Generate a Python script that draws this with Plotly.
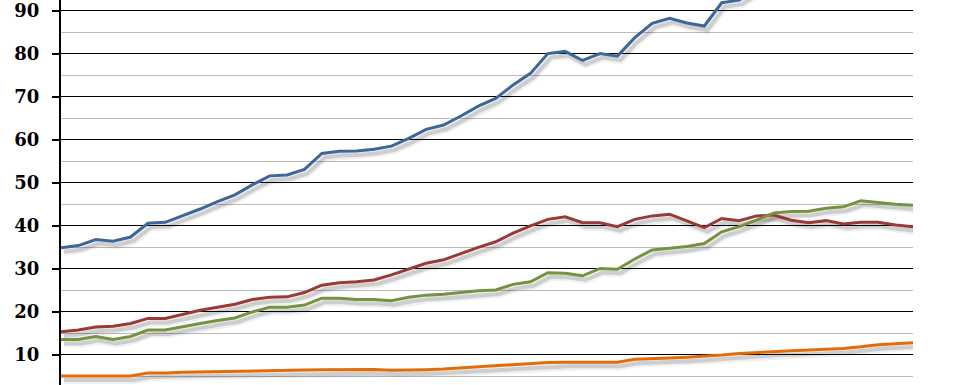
import plotly.graph_objects as go

years = [1963, 1964, 1965, 1966, 1967, 1968, 1969, 1970, 1971, 1972,
         1973, 1974, 1975, 1976, 1977, 1978, 1979, 1980, 1981, 1982,
         1983, 1984, 1985, 1986, 1987, 1988, 1989, 1990, 1991, 1992,
         1993, 1994, 1995, 1996, 1997, 1998, 1999, 2000, 2001, 2002,
         2003, 2004, 2005, 2006, 2007, 2008, 2009, 2010, 2011, 2012]

blue = [34.9, 35.4, 36.8, 36.4, 37.4, 40.6, 40.8, 42.3, 43.9, 45.6,
        47.2, 49.5, 51.6, 51.8, 53.1, 56.8, 57.3, 57.4, 57.8, 58.5,
        60.3, 62.4, 63.4, 65.5, 67.8, 69.6, 72.7, 75.4, 80.0, 80.5,
        78.4, 80.0, 79.4, 83.7, 87.0, 88.2, 87.1, 86.4, 91.8, 92.4,
        95.0, 96.5, 98.2, 99.5, 101.0, 103.0, 104.5, 106.0, 108.0, 110.0]

red = [15.4, 15.8, 16.5, 16.7, 17.3, 18.5, 18.5, 19.4, 20.4, 21.1,
       21.8, 22.9, 23.4, 23.5, 24.5, 26.2, 26.8, 27.0, 27.4, 28.6,
       29.9, 31.3, 32.1, 33.6, 35.0, 36.3, 38.3, 40.0, 41.5, 42.1,
       40.7, 40.7, 39.8, 41.5, 42.3, 42.7, 41.2, 39.6, 41.7, 41.2,
       42.3, 42.5, 41.3, 40.7, 41.2, 40.4, 40.8, 40.8, 40.2, 39.8]

green = [13.6, 13.6, 14.3, 13.6, 14.3, 15.8, 15.8, 16.6, 17.3, 18.0,
         18.6, 20.0, 21.1, 21.1, 21.6, 23.2, 23.2, 22.9, 22.9, 22.6,
         23.4, 23.9, 24.1, 24.5, 24.9, 25.1, 26.4, 27.0, 29.1, 29.0,
         28.4, 30.1, 29.9, 32.3, 34.4, 34.8, 35.2, 35.9, 38.6, 39.8,
         41.3, 43.0, 43.3, 43.4, 44.1, 44.4, 45.8, 45.4, 45.0, 44.8]

orange = [5.1, 5.1, 5.1, 5.1, 5.1, 5.8, 5.8, 6.0, 6.05, 6.1,
          6.2, 6.35, 6.4, 6.4, 6.5, 6.6, 6.65, 6.65, 6.65, 6.45,
          6.45, 6.6, 6.75, 7.0, 7.2, 7.45, 7.65, 7.9, 8.25, 8.3,
          8.3, 8.3, 8.3, 9.0, 9.1, 9.3, 9.5, 9.7, 10.0, 10.35,
          10.6, 10.9, 11.0, 11.15, 11.3, 11.5, 11.9, 12.4, 12.6, 12.85]

series = [
    ("Series 1", blue, "#3C679A"),
    ("Series 2", red, "#9A3A38"),
    ("Series 3", green, "#76923C"),
    ("Series 4", orange, "#E36C09"),
]

y_tick_vals = [10, 20, 30, 40, 50, 60, 70, 80, 90]
y_tick_text = ["10", "20", "30", "40", "50", "60", "70", "80", "90"]

W, H = 967, 385
ML, MR = 61, 54
plot_w = W - ML - MR
y_lo, y_hi = 3.03, 92.44
x_lo, x_hi = years[0], years[-1]
px_per_x = plot_w / (x_hi - x_lo)
px_per_y = H / (y_hi - y_lo)
sdx, sdy = 3, 4  # shadow offset in pixels

fig = go.Figure()

# shadows on the base axes (shifted ranges)
for name, vals, col in series:
    fig.add_trace(go.Scatter(x=years, y=vals, mode="lines", xaxis="x", yaxis="y",
                             line=dict(color="rgba(0,0,0,0.06)", width=8),
                             hoverinfo="skip", showlegend=False))
    fig.add_trace(go.Scatter(x=years, y=vals, mode="lines", xaxis="x", yaxis="y",
                             line=dict(color="rgba(0,0,0,0.14)", width=4),
                             hoverinfo="skip", showlegend=False))

# real lines on overlay axes
for name, vals, col in series:
    fig.add_trace(go.Scatter(x=years, y=vals, mode="lines", name=name,
                             xaxis="x2", yaxis="y2",
                             line=dict(color=col, width=3), showlegend=False))

fig.update_layout(
    width=W, height=H,
    margin=dict(l=ML, r=MR, t=0, b=0, pad=0, autoexpand=False),
    paper_bgcolor="white", plot_bgcolor="white",
    showlegend=False,
    xaxis=dict(range=[x_lo - sdx / px_per_x, x_hi - sdx / px_per_x], visible=False,
               fixedrange=True, automargin=False),
    yaxis=dict(range=[y_lo + sdy / px_per_y, y_hi + sdy / px_per_y], visible=False,
               fixedrange=True, automargin=False),
    xaxis2=dict(range=[x_lo, x_hi], overlaying="x", visible=False, anchor="y2",
                automargin=False),
    yaxis2=dict(range=[y_lo, y_hi], overlaying="y", side="left", anchor="x2",
                automargin=False, ticklabeloverflow="allow",
                tickmode="array", tickvals=y_tick_vals, ticktext=y_tick_text,
                showgrid=True, gridcolor="#000000", gridwidth=1,
                showline=True, linecolor="#000000", linewidth=2,
                ticks="outside", ticklen=7, tickcolor="#000000", tickwidth=2,
                ticklabelstandoff=9,
                tickfont=dict(family="DejaVu Serif", size=18, color="#000000", weight="bold"),
                minor=dict(tickmode="array", tickvals=[5, 15, 25, 35, 45, 55, 65, 75, 85],
                           showgrid=True, gridcolor="#BBBBBB", gridwidth=1, ticks=""),
                zeroline=False),
)

fig.write_html("out.html", config={"displayModeBar": False},
               post_script="document.body.style.margin='0';document.body.style.overflow='hidden';")
